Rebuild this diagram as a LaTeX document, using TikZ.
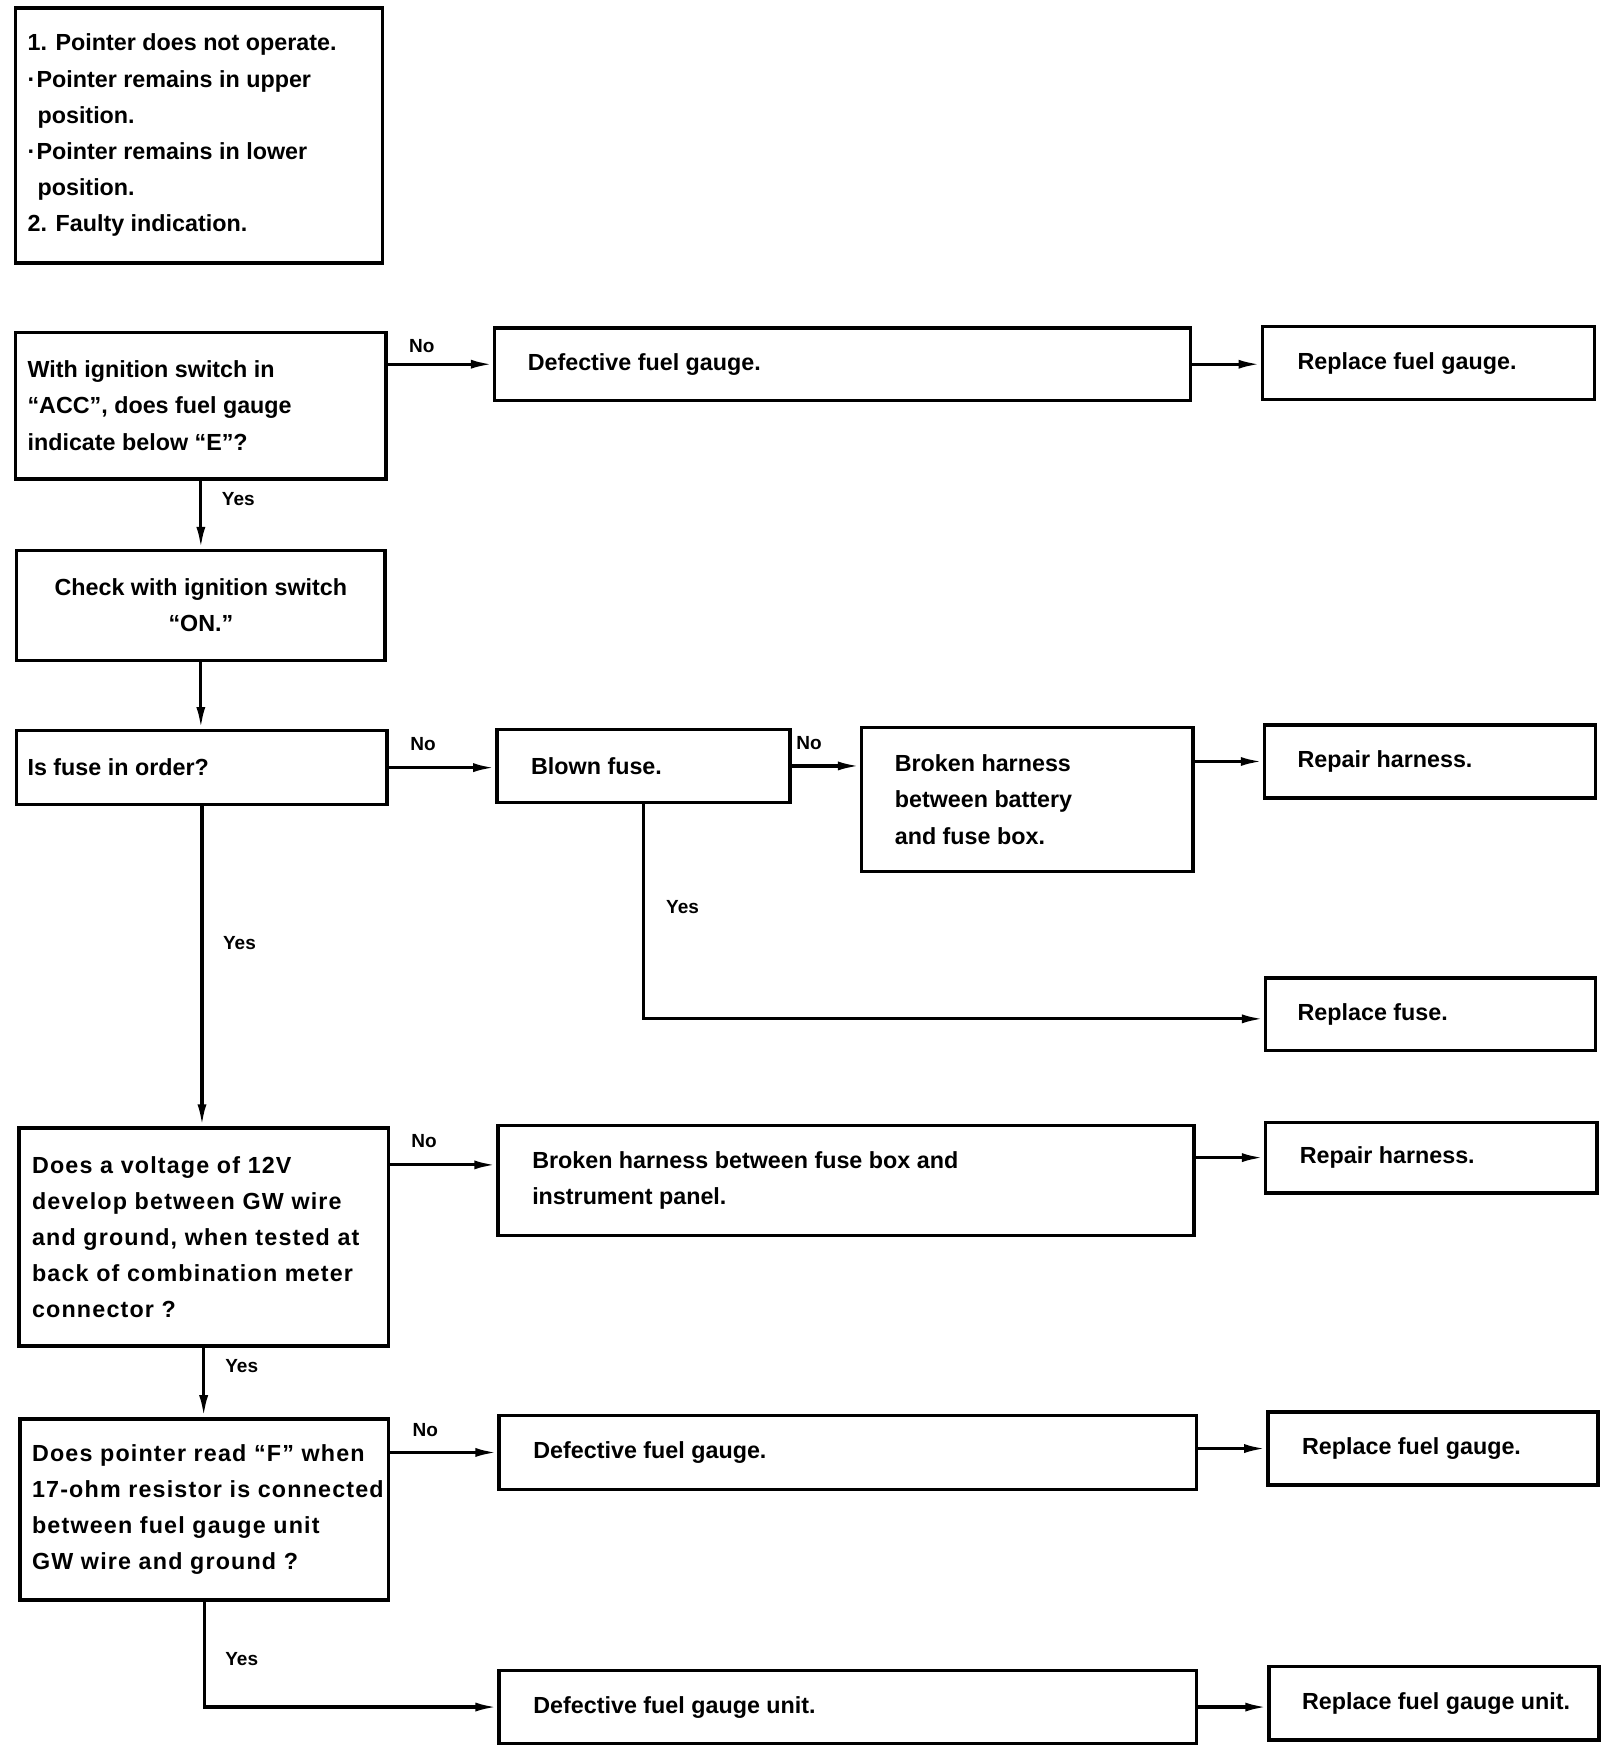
\documentclass[tikz,border=0pt]{standalone}
\usepackage{fontspec}
\setmainfont{Liberation Sans}
\usetikzlibrary{arrows.meta,calc}
\newcommand\mybox[5]{\node[box, minimum width={(#4-#2)*1.119pt}, minimum height={(#5-#3)*1.119pt}] (#1) at ({(#2+#4)/2},{(#3+#5)/2}) {};}
\begin{document}
\begin{tikzpicture}[x=1.119pt,y=-1.119pt,
  box/.style={draw, line width=3.4pt, rectangle, inner sep=0pt},
  txt/.style={anchor=west, align=left, inner sep=0pt, font=\bfseries\fontsize{23.3}{36.2}\selectfont},
  wtxt/.style={txt, font=\bfseries\fontsize{23.3}{36.2}\selectfont\addfontfeature{LetterSpace=5}},
  lbl/.style={inner sep=0pt, font=\bfseries\fontsize{19}{22}\selectfont},
  arr/.style={line width=3.2pt, -{Latex[length=22pt,width=9pt]}}]
\useasboundingbox (0,0) rectangle (1444.15,1567.47);
% boxes
\mybox{a}{14}{7}{342}{235}
\mybox{q1}{14}{297}{345}{428}
\mybox{d1}{442}{293}{1064}{358}
\mybox{r1}{1128}{292}{1425}{357}
\mybox{c}{15}{492}{344}{590}
\mybox{q2}{15}{653}{346}{719}
\mybox{b}{444}{652}{706}{717}
\mybox{bh}{770}{650}{1066}{779}
\mybox{rh1}{1130}{648}{1426}{713}
\mybox{rf}{1131}{874}{1426}{939}
\mybox{q3}{17}{1008}{347}{1203}
\mybox{bh2}{445}{1006}{1067}{1104}
\mybox{rh2}{1131}{1003}{1427}{1066}
\mybox{q4}{18}{1268}{347}{1430}
\mybox{d2}{446}{1265}{1069}{1331}
\mybox{r2}{1133}{1262}{1428}{1327}
\mybox{du}{446}{1493}{1069}{1558}
\mybox{ru}{1134}{1489}{1429}{1555}
% texts
\node[txt] (at) at ([xshift=12*1.119pt]a.west) {1. Pointer does not operate.\\
\makebox[9pt][l]{·}Pointer remains in upper\\
\hspace*{10pt}position.\\
\makebox[9pt][l]{·}Pointer remains in lower\\
\hspace*{10pt}position.\\
2. Faulty indication.};
\node[txt] (q1t) at ([xshift=12*1.119pt]q1.west) {With ignition switch in\\“ACC”, does fuel gauge\\indicate below “E”?};
\node[txt] (d1t) at ([xshift=31*1.119pt]d1.west) {Defective fuel gauge.};
\node[txt] (r1t) at ([xshift=33*1.119pt]r1.west) {Replace fuel gauge.};
\node[txt, anchor=center, align=center] (ct) at (c.center) {Check with ignition switch\\“ON.”};
\node[txt] (q2t) at ([xshift=11*1.119pt]q2.west) {Is fuse in order?};
\node[txt] (bt) at ([xshift=32*1.119pt]b.west) {Blown fuse.};
\node[txt] (bht) at ([xshift=31*1.119pt]bh.west) {Broken harness\\between battery\\and fuse box.};
\node[txt] (rh1t) at ([xshift=31*1.119pt]rh1.west) {Repair harness.};
\node[txt] (rft) at ([xshift=30*1.119pt]rf.west) {Replace fuse.};
\node[wtxt] (q3t) at ([xshift=13*1.119pt]q3.west) {Does a voltage of 12V\\develop between GW wire\\and ground, when tested at\\back of combination meter\\connector ?};
\node[txt] (bh2t) at ([xshift=32*1.119pt]bh2.west) {Broken harness between fuse box and\\instrument panel.};
\node[txt] (rh2t) at ([xshift=32*1.119pt]rh2.west) {Repair harness.};
\node[wtxt] (q4t) at ([xshift=12*1.119pt]q4.west) {Does pointer read “F” when\\17-ohm resistor is connected\\between fuel gauge unit\\GW wire and ground ?};
\node[txt] (d2t) at ([xshift=32*1.119pt]d2.west) {Defective fuel gauge.};
\node[txt] (r2t) at ([xshift=32*1.119pt]r2.west) {Replace fuel gauge.};
\node[txt] (dut) at ([xshift=32*1.119pt]du.west) {Defective fuel gauge unit.};
\node[txt] (rut) at ([xshift=31*1.119pt]ru.west) {Replace fuel gauge unit.};
% connectors
\draw[arr] (q1.east |- d1.west) -- (d1.west);
\draw[arr] (d1.east) -- (d1.east -| r1.west);
\draw[arr] (q1.south) -- (q1.south |- c.north);
\draw[arr] (c.south) -- (c.south |- q2.north);
\draw[arr] (q2.east) -- (q2.east -| b.west);
\draw[arr] (b.east) -- (b.east -| bh.west);
\draw[arr] (rh1.west -| bh.east) -- (rh1.west);
\draw[arr] (b.south) |- ([yshift=-4*1.119pt]rf.west);
\draw[arr] (q2.south) -- (q2.south |- q3.north);
\draw[arr] ([yshift=14*1.119pt]bh2.west -| q3.east) -- ([yshift=14*1.119pt]bh2.west);
\draw[arr] (rh2.west -| bh2.east) -- (rh2.west);
\draw[arr] (q3.south) -- (q3.south |- q4.north);
\draw[arr] (q4.east |- d2.west) -- (d2.west);
\draw[arr] (r2.west -| d2.east) -- (r2.west);
\draw[arr] (q4.south) |- (du.west);
\draw[arr] (du.east) -- (du.east -| ru.west);
% labels
\node[lbl] (n1) at (377,309) {No};
\node[lbl] (y1) at (213,446) {Yes};
\node[lbl] (n2) at (378,665) {No};
\node[lbl] (n3) at (723,664) {No};
\node[lbl] (y2) at (610,811) {Yes};
\node[lbl] (y3) at (214,843) {Yes};
\node[lbl] (n4) at (379,1020) {No};
\node[lbl] (y4) at (216,1221) {Yes};
\node[lbl] (n5) at (380,1278) {No};
\node[lbl] (y5) at (216,1483) {Yes};
\end{tikzpicture}
\end{document}
